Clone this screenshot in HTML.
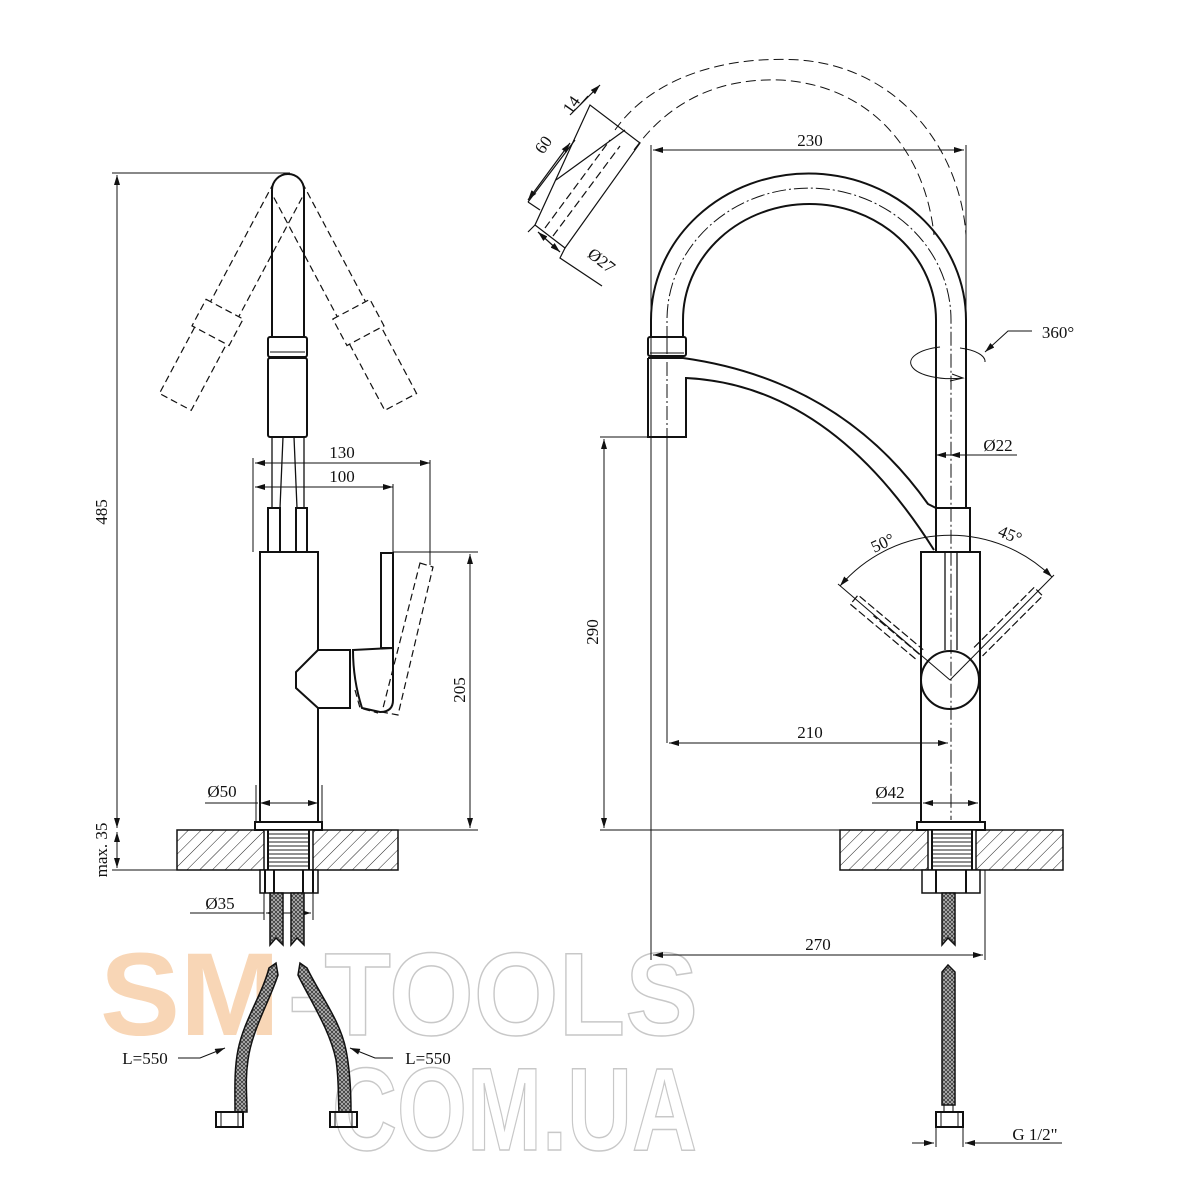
<!DOCTYPE html>
<html><head><meta charset="utf-8"><style>
html,body{margin:0;padding:0;background:#fff}
svg{display:block}
text{font-family:"Liberation Serif",serif;fill:#111}
</style></head><body>
<svg width="1200" height="1200" viewBox="0 0 1200 1200" xmlns="http://www.w3.org/2000/svg">
<defs>
<marker id="a" viewBox="0 0 10 6" refX="10" refY="3" markerWidth="10" markerHeight="6" markerUnits="userSpaceOnUse" orient="auto-start-reverse"><path d="M0,0L10,3L0,6z" fill="#111"/></marker>
<pattern id="h" width="9" height="9" patternUnits="userSpaceOnUse" patternTransform="rotate(45)"><line x1="0" y1="0" x2="0" y2="9" stroke="#222" stroke-width="1"/></pattern>
<pattern id="br" width="4" height="4" patternUnits="userSpaceOnUse"><rect width="4" height="4" fill="#bbb"/><path d="M0,0L2,2L4,0M0,4L2,2L4,4" stroke="#333" stroke-width="0.8" fill="none"/></pattern>
<pattern id="th" width="4" height="4" patternUnits="userSpaceOnUse"><line x1="0" y1="2" x2="4" y2="2" stroke="#222" stroke-width="1"/></pattern>
</defs>

<!-- watermark -->
<text x="100" y="1035" font-size="118" style="font-family:'Liberation Sans',sans-serif;font-weight:bold;fill:#f8d6b6" textLength="180" lengthAdjust="spacingAndGlyphs">SM</text>
<text x="288" y="1035" font-size="118" style="font-family:'Liberation Sans',sans-serif;font-weight:bold;fill:none;stroke:#c8c8c8;stroke-width:1.5" textLength="410" lengthAdjust="spacingAndGlyphs">-TOOLS</text>
<text x="332" y="1150" font-size="118" style="font-family:'Liberation Sans',sans-serif;font-weight:bold;fill:none;stroke:#c8c8c8;stroke-width:1.5" textLength="365" lengthAdjust="spacingAndGlyphs">COM.UA</text>

<g fill="none" stroke="#111" stroke-width="1">
<!-- ===== LEFT VIEW ===== -->
<line x1="112" y1="173" x2="290" y2="173"/>
<line x1="117" y1="175" x2="117" y2="828" marker-start="url(#a)" marker-end="url(#a)"/>
<line x1="112" y1="870" x2="177" y2="870"/>
<line x1="117" y1="832" x2="117" y2="868" marker-start="url(#a)" marker-end="url(#a)"/>

<g stroke-width="2">
<path d="M272,337 L272,190 A16,16 0 0 1 304,190 L304,337"/>
<rect x="268" y="337" width="39" height="20" rx="2"/>
<line x1="270" y1="352" x2="305" y2="352" stroke-width="1"/>
<rect x="268" y="358" width="39" height="79" rx="2"/>
<path d="M272,437 L272,508 M304,437 L304,508 M283,437 L280,508 M294,437 L297,508" stroke-width="1.3"/>
<rect x="268" y="508" width="12" height="44"/>
<rect x="296" y="508" width="11" height="44"/>
<rect x="260" y="552" width="58" height="270"/>
<path d="M318,650 L296,672 L296,688 L318,708 L350,708 L350,650 Z" fill="#fff"/>
<path d="M353,650 L393,648 L393,700 Q393,712 380,712 L362,708 Q353,680 353,650 Z" fill="#fff"/>
<rect x="381" y="553" width="12" height="95" fill="#fff"/>
</g>
<g stroke-dasharray="7,4" stroke-width="1.2">
<g transform="translate(288,190) rotate(28)">
<path d="M-16,0 L-16,135 M16,0 L16,135"/><rect x="-21" y="135" width="42" height="30"/><path d="M-18,165 L-18,240 L18,240 L18,165"/>
</g>
<g transform="translate(288,190) rotate(-28)">
<path d="M-16,0 L-16,135 M16,0 L16,135"/><rect x="-21" y="135" width="42" height="30"/><path d="M-18,165 L-18,240 L18,240 L18,165"/>
</g>
<path d="M420,563 L433,567 L398,715 L382,712 Z"/>
<path d="M355,690 L360,708 L378,713"/>
</g>
<line x1="253" y1="458" x2="253" y2="552"/>
<line x1="255" y1="463" x2="430" y2="463" marker-start="url(#a)" marker-end="url(#a)"/>
<line x1="430" y1="460" x2="430" y2="565"/>
<line x1="255" y1="487" x2="393" y2="487" marker-start="url(#a)" marker-end="url(#a)"/>
<line x1="393" y1="484" x2="393" y2="552"/>
<line x1="393" y1="552" x2="478" y2="552"/>
<line x1="470" y1="554" x2="470" y2="828" marker-start="url(#a)" marker-end="url(#a)"/>
<line x1="398" y1="830" x2="478" y2="830"/>
<line x1="256" y1="785" x2="256" y2="822"/><line x1="322" y1="785" x2="322" y2="822"/>
<line x1="205" y1="803" x2="258" y2="803"/>
<line x1="260" y1="803" x2="318" y2="803" marker-start="url(#a)" marker-end="url(#a)"/>
<rect x="255" y="822" width="67" height="8" stroke-width="2" fill="#fff"/>
<rect x="177" y="830" width="221" height="40" fill="url(#h)" stroke-width="1.5"/>
<rect x="264" y="830" width="49" height="40" fill="#fff" stroke-width="1.5"/>
<rect x="268" y="832" width="41" height="36" fill="url(#th)" stroke="none"/>
<path d="M268,830 L268,870 M309,830 L309,870" stroke-width="2"/>
<rect x="260" y="870" width="58" height="23" stroke-width="1.5" fill="#fff"/>
<path d="M265,870 L265,893 M313,870 L313,893 M274,870 L274,893 M303,870 L303,893" stroke-width="2"/>
<line x1="264" y1="893" x2="264" y2="920"/><line x1="313" y1="893" x2="313" y2="920"/>
<line x1="190" y1="913" x2="264" y2="913"/>
<line x1="266" y1="913" x2="311" y2="913" marker-start="url(#a)" marker-end="url(#a)"/>
<path d="M270,893 L270,945 L276,938 L283,945 L283,893 Z" fill="url(#br)" stroke-width="1.5"/>
<path d="M291,893 L291,945 L297,938 L304,945 L304,893 Z" fill="url(#br)" stroke-width="1.5"/>
<path d="M269,968 L276,963 L278,975 C270,1000 252,1030 248,1060 C245,1080 247,1095 247,1112 L235,1112 C235,1090 234,1070 238,1050 C244,1020 262,995 269,968 Z" fill="url(#br)" stroke-width="1.5"/>
<path d="M307,968 L300,963 L298,975 C310,1000 330,1030 336,1060 C339,1080 338,1095 339,1112 L351,1112 C351,1090 350,1070 346,1050 C340,1020 320,995 307,968 Z" fill="url(#br)" stroke-width="1.5"/>
<rect x="216" y="1112" width="27" height="15" stroke-width="2"/><path d="M221,1112 V1127 M238,1112 V1127"/>
<rect x="330" y="1112" width="27" height="15" stroke-width="2"/><path d="M335,1112 V1127 M352,1112 V1127"/>
<path d="M178,1058 L200,1058 L225,1048" marker-end="url(#a)"/>
<path d="M393,1058 L375,1058 L350,1048" marker-end="url(#a)"/>

<!-- ===== RIGHT VIEW ===== -->
<line x1="651" y1="145" x2="651" y2="960"/>
<line x1="966" y1="145" x2="966" y2="330"/>
<line x1="653" y1="150" x2="964" y2="150" marker-start="url(#a)" marker-end="url(#a)"/>
<g stroke-width="2">
<path d="M651,337 L651,320 A157,146 0 0 1 966,320 L966,508"/>
<path d="M683,337 L683,320 A126.5,116 0 0 1 936,320 L936,508"/>
<rect x="648" y="337" width="38" height="19" rx="2"/>
<line x1="650" y1="353" x2="684" y2="353" stroke-width="1"/>
<path d="M648,358 L648,437 L686,437 L686,378 Q830,385 934,550"/>
<path d="M648,358 L683,358 Q840,380 928,504 L936,508"/>
<rect x="936" y="508" width="34" height="44" fill="#fff"/>
<rect x="921" y="552" width="59" height="270" fill="#fff"/>
<path d="M945,552 V650 M957,552 V650" stroke-width="1.3"/>
<circle cx="950" cy="680" r="29" fill="#fff"/>
</g>
<path d="M667,340 L667,320 A141,131 0 0 1 951,320 L951,820" stroke-dasharray="14,3,2,3"/>
<path d="M667,340 V437" stroke-dasharray="14,3,2,3"/>
<line x1="667" y1="437" x2="667" y2="743"/>
<path d="M615,130 C650,80 720,55 800,60 C900,68 960,150 966,235" stroke-dasharray="10,5"/>
<path d="M634,150 C670,100 720,78 780,80 C870,85 925,150 934,235" stroke-dasharray="10,5"/>
<g stroke-width="1.2">
<path d="M535,225 L565,248 L640,143 L590,105 Z"/>
<path d="M556,180 L625,130" />
<path d="M545,228 L610,140 M553,236 L620,146" stroke-dasharray="8,4"/>
<path d="M528,202 L575,140 M528,202 L540,210" />
<line x1="528" y1="200" x2="570" y2="143" marker-start="url(#a)" marker-end="url(#a)"/>
<line x1="570" y1="115" x2="600" y2="85" marker-end="url(#a)"/>
<line x1="580" y1="105" x2="588" y2="96"/>
<path d="M535,225 L528,232 M565,248 L560,258 L602,286"/>
<line x1="538" y1="232" x2="560" y2="252" marker-start="url(#a)" marker-end="url(#a)"/>
</g>
<path d="M940,347 A35,14 0 1 0 962,378" />
<path d="M985,362 A35,14 0 0 0 960,348"/>
<path d="M950,381 L963,378 L952,374"/>
<path d="M1032,331 L1008,331 L985,352" marker-end="url(#a)"/>
<line x1="936" y1="455" x2="950" y2="455" marker-start="url(#a)"/>
<line x1="950" y1="455" x2="1017" y2="455" marker-start="url(#a)"/>
<line x1="600" y1="437" x2="648" y2="437"/>
<line x1="604" y1="439" x2="604" y2="828" marker-start="url(#a)" marker-end="url(#a)"/>
<line x1="600" y1="830" x2="840" y2="830"/>
<line x1="669" y1="743" x2="948" y2="743" marker-start="url(#a)" marker-end="url(#a)"/>
<path d="M840,586 A145,145 0 0 1 1052,577" marker-start="url(#a)" marker-end="url(#a)"/>
<line x1="950" y1="680" x2="838" y2="584"/><line x1="950" y1="680" x2="1054" y2="575"/>
<g stroke-dasharray="8,3" stroke-width="1.2">
<g transform="translate(950,680) rotate(-50)"><path d="M-6,-40 L-6,-125 L6,-125 L6,-40"/><line x1="0" y1="-40" x2="0" y2="-100"/></g>
<g transform="translate(950,680) rotate(45)"><path d="M-6,-40 L-6,-125 L6,-125 L6,-40"/></g>
</g>
<line x1="872" y1="803" x2="921" y2="803"/>
<line x1="923" y1="803" x2="978" y2="803" marker-start="url(#a)" marker-end="url(#a)"/>
<rect x="917" y="822" width="68" height="8" stroke-width="2" fill="#fff"/>
<rect x="840" y="830" width="223" height="40" fill="url(#h)" stroke-width="1.5"/>
<rect x="928" y="830" width="48" height="40" fill="#fff" stroke-width="1.5"/>
<rect x="932" y="832" width="40" height="36" fill="url(#th)" stroke="none"/>
<path d="M932,830 L932,870 M972,830 L972,870" stroke-width="2"/>
<rect x="922" y="870" width="58" height="23" stroke-width="1.5" fill="#fff"/>
<path d="M936,870 V893 M966,870 V893" stroke-width="2"/>
<path d="M942,893 L942,945 L948,938 L955,945 L955,893 Z" fill="url(#br)" stroke-width="1.5"/>
<line x1="985" y1="870" x2="985" y2="960"/>
<line x1="653" y1="955" x2="983" y2="955" marker-start="url(#a)" marker-end="url(#a)"/>
<path d="M942,1105 L942,972 L948,965 L955,972 L955,1105 Z" fill="url(#br)" stroke-width="1.5"/>
<rect x="944" y="1105" width="9" height="7"/>
<rect x="936" y="1112" width="27" height="15" stroke-width="2"/><path d="M941,1112 V1127 M958,1112 V1127"/>
<path d="M936,1127 V1147 M963,1127 V1147"/>
<line x1="912" y1="1143" x2="934" y2="1143" marker-end="url(#a)"/>
<line x1="1062" y1="1143" x2="965" y2="1143" marker-end="url(#a)"/>
</g>

<g font-size="17">
<text x="107" y="512" transform="rotate(-90 107 512)" text-anchor="middle">485</text>
<text x="107" y="850" transform="rotate(-90 107 850)" text-anchor="middle">max. 35</text>
<text x="342" y="458" text-anchor="middle">130</text>
<text x="342" y="482" text-anchor="middle">100</text>
<text x="465" y="690" transform="rotate(-90 465 690)" text-anchor="middle">205</text>
<text x="222" y="797" text-anchor="middle">Ø50</text>
<text x="220" y="909" text-anchor="middle">Ø35</text>
<text x="145" y="1064" text-anchor="middle">L=550</text>
<text x="428" y="1064" text-anchor="middle">L=550</text>
<text x="810" y="146" text-anchor="middle">230</text>
<text x="1058" y="338" text-anchor="middle">360°</text>
<text x="998" y="451" text-anchor="middle">Ø22</text>
<text x="598" y="632" transform="rotate(-90 598 632)" text-anchor="middle">290</text>
<text x="810" y="738" text-anchor="middle">210</text>
<text x="890" y="798" text-anchor="middle">Ø42</text>
<text x="818" y="950" text-anchor="middle">270</text>
<text x="1035" y="1140" text-anchor="middle">G 1/2"</text>
<text x="885" y="548" transform="rotate(-25 885 548)" text-anchor="middle">50°</text>
<text x="1008" y="540" transform="rotate(22 1008 540)" text-anchor="middle">45°</text>
<text x="548" y="148" transform="rotate(-55 548 148)" text-anchor="middle">60</text>
<text x="576" y="108" transform="rotate(-55 576 108)" text-anchor="middle">14</text>
<text x="598" y="265" transform="rotate(38 598 265)" text-anchor="middle">Ø27</text>
</g>
</svg>
</body></html>
